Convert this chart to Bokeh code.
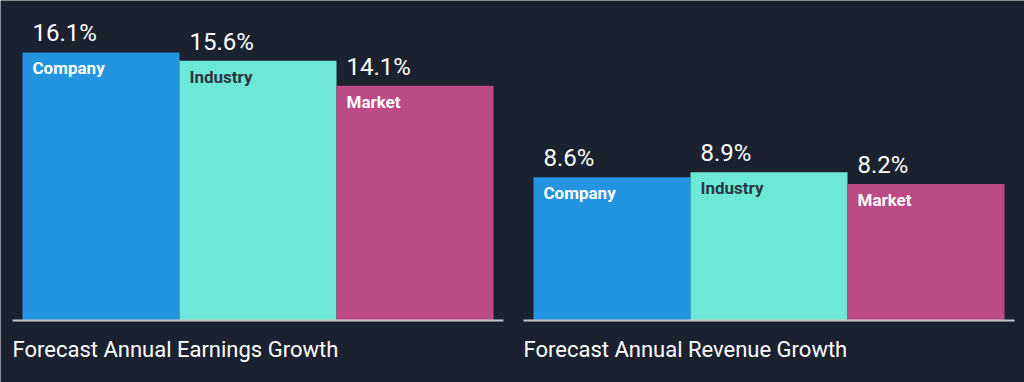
from bokeh.plotting import figure
from bokeh.models import Range1d, ColumnDataSource
from bokeh.core.properties import value
from bokeh.embed import file_html
from bokeh.resources import INLINE

# ---- data ----
categories = ["Company", "Industry", "Market"]
earnings_growth = [16.1, 15.6, 14.1]
revenue_growth = [8.6, 8.9, 8.2]
panel_titles = ["Forecast Annual Earnings Growth", "Forecast Annual Revenue Growth"]

# ---- style / layout constants ----
BG = "#1c2130"
bar_colors = ["#2394df", "#6ee8d6", "#bb4a85"]
cat_text_colors = ["#ffffff", "#2b3441", "#ffffff"]
FONT = "Roboto"
W, H = 1024, 382
PX_PER_PCT = 16.65      # vertical scale (pixels per percent)
BASE_Y = 320            # pixel row of the zero line
BAR_PX = 157            # bar width in pixels
FIRST_BAR_PX = 22       # left edge of first bar
PANEL_PX = 511          # horizontal distance between panels
PAD_PX = 10             # baseline overhang beyond bars

panel_shift = PANEL_PX / BAR_PX
x_start = -0.5 - FIRST_BAR_PX / BAR_PX

p = figure(
    width=W, height=H, output_backend="svg", toolbar_location=None,
    min_border=0, min_border_left=0, min_border_right=0,
    min_border_top=0, min_border_bottom=0,
    x_range=Range1d(x_start, x_start + W / BAR_PX),
    y_range=Range1d(-(H - BASE_Y) / PX_PER_PCT, BASE_Y / PX_PER_PCT),
    x_axis_location=None, y_axis_location=None,
    background_fill_color=BG, border_fill_color=BG, outline_line_color=None,
)
p.xgrid.visible = False
p.ygrid.visible = False

for k, (vals, title) in enumerate([(earnings_growth, panel_titles[0]),
                                   (revenue_growth, panel_titles[1])]):
    n = len(vals)
    off = k * panel_shift
    xs = [i + off for i in range(n)]
    src = ColumnDataSource(dict(
        x=xs,
        left=[x - 0.5 for x in xs],
        top=vals,
        color=bar_colors,
        cat=categories,
        tcolor=cat_text_colors,
        vtxt=[f"{v}%" for v in vals],
    ))
    p.vbar(x="x", top="top", bottom=0, width=1.0, source=src,
           fill_color="color", line_color=None)
    p.text(x="left", y="top", text="vtxt", source=src, x_offset=10, y_offset=-19,
           text_baseline="alphabetic", text_align="left",
           text_font=value(FONT), text_font_size="24px", text_color="#ffffff")
    p.text(x="left", y="top", text="cat", source=src, x_offset=10, y_offset=16,
           text_baseline="alphabetic", text_align="left",
           text_font=value(FONT), text_font_size="17px", text_font_style="bold",
           text_color="tcolor")
    bl_x0 = xs[0] - 0.5 - PAD_PX / BAR_PX
    bl_x1 = xs[-1] + 0.5 + PAD_PX / BAR_PX
    p.segment(x0=[bl_x0], y0=[0], x1=[bl_x1], y1=[0],
              line_color="#c5c8cd", line_width=2)
    p.text(x=[bl_x0], y=[0], text=[title], y_offset=29,
           text_baseline="alphabetic", text_align="left",
           text_font=value(FONT), text_font_size="22px", text_color="#ffffff")

html = file_html(p, INLINE)
html = html.replace("<body>", '<body style="background-color:#1c2130;">', 1)
open("out.html", "w").write(html)
